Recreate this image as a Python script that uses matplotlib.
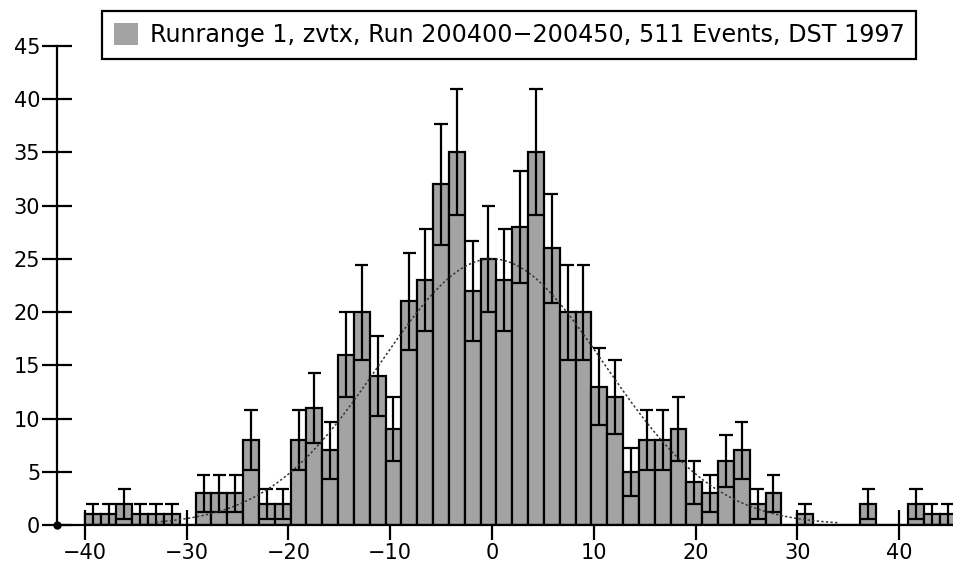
import numpy as np
import matplotlib.pyplot as plt
from matplotlib.patches import Patch

# histogram of zvtx, bins start at -40, width ~1.555
bin_start = -40.0
bin_width = 1.555
counts = [1, 1, 2, 1, 1, 1, 0, 3, 3, 3,
          8, 2, 2, 8, 11, 7, 16, 20, 14, 9,
          21, 23, 32, 35, 22, 25, 23, 28, 35, 26,
          20, 20, 13, 12, 5, 8, 8, 9, 4, 3,
          6, 7, 2, 3, 0, 1, 0, 0, 0, 2,
          0, 0, 2, 1, 1]

# gaussian fit drawn over the histogram
fit_amp = 25.0
fit_mean = 0.0
fit_sigma = 11.0
fit_range = (-33.0, 34.0)

xticks = [-40, -30, -20, -10, 0, 10, 20, 30, 40]
yticks = [0, 5, 10, 15, 20, 25, 30, 35, 40, 45]
legend_label = "Runrange 1, zvtx, Run 200400\u2212200450, 511 Events, DST 1997"

plt.rcParams['font.family'] = ['DejaVu Sans']
plt.rcParams['font.size'] = 15

counts = np.array(counts, dtype=float)
edges = bin_start + bin_width * np.arange(len(counts))
centers = edges + bin_width / 2

fig = plt.figure(figsize=(9.54, 5.69), dpi=100)
ax = fig.add_axes([57 / 954, 1 - 525 / 569, 1 - 57 / 954, (525 - 46) / 569])

gray = '#a3a3a3'
ax.bar(edges, counts, width=bin_width, align='edge', color=gray,
       edgecolor='black', linewidth=1.6, zorder=2)

has = counts > 0
err = np.sqrt(counts[has])
c = centers[has]
n = counts[has]
ax.vlines(c, n - err, n + err, color='black', linewidth=1.6, zorder=3)
ax.hlines(n + err, c - 0.42 * bin_width, c + 0.42 * bin_width, color='black', linewidth=1.6, zorder=3)
ax.hlines(n - err, c - 0.5 * bin_width, c + 0.5 * bin_width, color='black', linewidth=1.6, zorder=3)

xf = np.linspace(fit_range[0], fit_range[1], 400)
ax.plot(xf, fit_amp * np.exp(-0.5 * ((xf - fit_mean) / fit_sigma) ** 2),
        color='#333333', linewidth=1.1, linestyle=(0, (1.5, 1.5)), zorder=4)

ax.set_xlim(-42.73, 45.38)
ax.set_ylim(0, 45)
ax.set_xticks(xticks)
ax.set_yticks(yticks)
for s in ['top', 'right']:
    ax.spines[s].set_visible(False)
for s in ['left', 'bottom']:
    ax.spines[s].set_linewidth(1.6)
ax.tick_params(direction='inout', length=22, width=1.6, pad=2)
ax.tick_params(axis='y', pad=1)
ax.plot([-42.73], [0], 'o', color='black', markersize=5, clip_on=False, zorder=5)

handle = Patch(facecolor=gray, edgecolor='none')
leg = fig.legend([handle], [legend_label], loc='center', bbox_to_anchor=(509 / 954, 1 - 35 / 569),
                 fancybox=False, framealpha=1, edgecolor='black', handlelength=1.0,
                 handleheight=1.05, handletextpad=0.5, borderpad=0.5, fontsize=17.2)
leg.get_frame().set_linewidth(1.6)

fig.savefig('out.png', dpi=100)
